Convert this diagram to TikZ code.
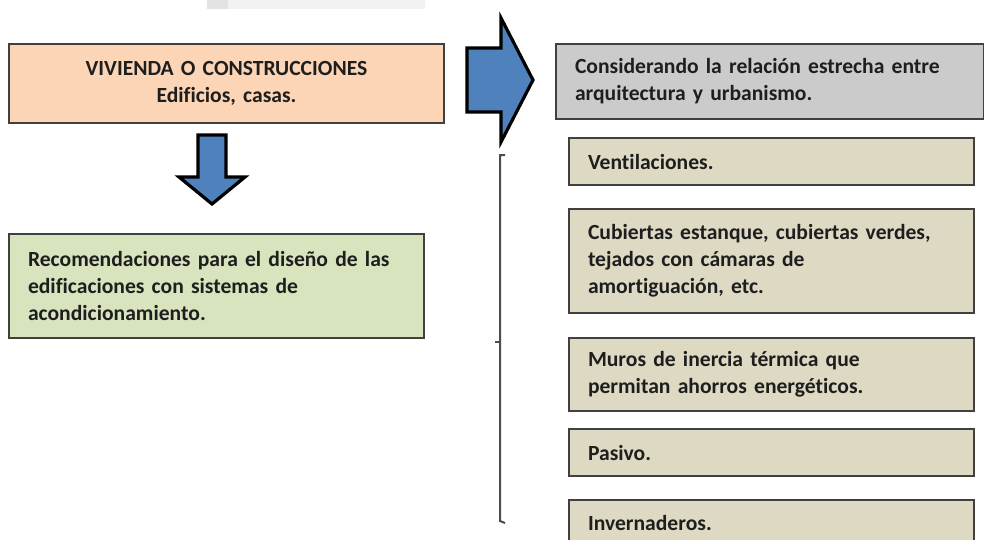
\documentclass[tikz,border=0pt]{standalone}
\usepackage{fontspec}
\setmainfont{Carlito}[Ligatures=NoCommon]
\usetikzlibrary{positioning}
\definecolor{peach}{HTML}{FBD5B5}
\definecolor{sage}{HTML}{D7E4BD}
\definecolor{greybox}{HTML}{CBCBCB}
\definecolor{tanbox}{HTML}{DDD9C3}
\definecolor{arrowblue}{HTML}{4F81BD}
\definecolor{boxline}{HTML}{404040}
\definecolor{ink}{HTML}{1E1E1E}
\tikzset{
	box/.style={
		rectangle, draw=boxline, line width=1pt, inner xsep=9.5pt, inner ysep=0pt,
		align=left, text=ink, font=\fontsize{10.8}{13.5}\selectfont\bfseries
	},
	%
	itembox/.style={
		box, fill=tanbox, text width=183.5pt
	},
	%
	blockarrow/.style={
		draw=black, line width=1.6pt, fill=arrowblue, line join=miter
	},
	%
	bracket/.style={
		draw=black!70, line width=1pt
	}
}
\begin{document}
\begin{tikzpicture}[x=0.5pt, y=-0.5pt]
    \useasboundingbox (0,0) rectangle (984,540);
    \fill[black!5] (207,0) rectangle (425,9);
    \fill[black!11] (207,0) rectangle (228,9);
    % left column
    \node(vivienda)[box, fill=peach, align=center, text width=198.5pt, minimum height=39.5pt, anchor=north west] at (8,43) {VIVIENDA O CONSTRUCCIONES\\Edificios, casas.};
    \node(recomend)[box, fill=sage, text width=188.5pt, minimum height=52pt, anchor=north west] at (8,233) {Recomendaciones para el diseño de las\\edificaciones con sistemas de\\acondicionamiento.};
    \draw[blockarrow] (198,135) -- (226,135) -- (226,177) -- (245,177) -- (212,204) -- (179,177) -- (198,177) -- cycle;
    % right column
    \node(relacion)[box, fill=greybox, text width=195pt, minimum height=37.5pt, anchor=north west] at (555,43) {Considerando la relación estrecha entre\\arquitectura y urbanismo.};
    \node(vent)[itembox, minimum height=23.5pt, anchor=north west] at (568,137) {Ventilaciones.};
    \node(cubiertas)[itembox, minimum height=52pt, below=11pt of vent] {Cubiertas estanque, cubiertas verdes,\\tejados con cámaras de\\amortiguación, etc.};
    \node(muros)[itembox, minimum height=36.5pt, below=11.5pt of cubiertas] {Muros de inercia térmica que\\permitan ahorros energéticos.};
    \node(pasivo)[itembox, minimum height=23.5pt, below=8pt of muros] {Pasivo.};
    \node(invern)[itembox, minimum height=23pt, below=11pt of pasivo] {Invernaderos.};
    \draw[blockarrow] (467,48) -- (501,48) -- (501,18) -- (533,80) -- (501,142) -- (501,112) -- (467,112) -- cycle;
    \draw[bracket] (505,155) -- (500,155) -- (500,521) -- (505,523);
    \draw[bracket] (500,342) -- (495,342);
\end{tikzpicture}
\end{document}
